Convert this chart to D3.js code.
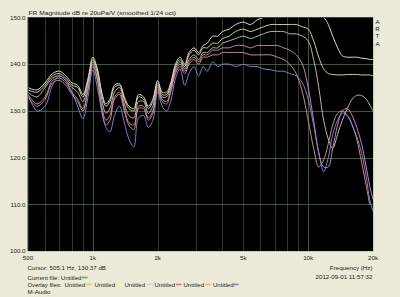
<!DOCTYPE html>
<html><head><meta charset="utf-8">
<script src="https://cdn.jsdelivr.net/npm/d3@7"></script>
<style>body{margin:0;background:#ece9d8;overflow:hidden}svg{display:block}</style>
</head><body>
<svg id="c" width="400" height="297"></svg>
<script>
const freqs = [500,550,600,650,700,750,800,850,900,950,1000,1050,1100,1150,1200,1260,1330,1400,1470,1550,1630,1720,1810,1900,2000,2100,2200,2300,2420,2540,2670,2800,2950,3100,3250,3400,3600,3800,4000,4300,4600,5000,5400,5800,6200,6700,7200,7700,8200,8800,9400,10000,10600,11200,11800,12400,13000,13700,14400,15200,16000,16800,17700,18600,19300,20000];

const curveWhite = [135,134.5,136,138,138.5,137.5,136,135.5,133.5,137,141.5,139,134,131.5,132.5,135.5,135.8,133,131,130.5,133.5,133,131,132.5,136.5,134,134,136,140,141.5,140,142.5,143.5,142.5,144,144.5,146,146,147,147.5,148.5,149,148.5,149.5,150,150.5,151,151,150.5,150.5,150.5,150.5,150.5,150.5,150,148.5,146,143.5,141.8,141.5,141.5,141.5,141.3,141.2,141,141];
const curveYellow = [134.5,134,135.5,137.5,138,137,135.5,135,133,136.5,141,138.5,133.5,131,132,135,135.5,132.5,130.5,130,133,132.5,130.5,132,136,133.5,133.5,135.5,139.5,141,139.5,142,143,142,143.5,143.5,144.5,144.5,145.5,146,147,147.5,147,147.5,148,148.5,148.5,148.5,148.5,148.5,148,147.5,145,141.5,139,138,137.8,137.7,137.7,137.8,137.8,137.8,137.7,137.7,137.7,137.5];
const curveGray = [134,133,135,137,137.5,136.5,135,134,132,136,140.5,138,132.5,129.5,130.5,134,135,131.5,129,128.5,132,132,129.5,131,135.5,133,133,135,139,140.5,139,141,142,141,142.5,142.5,143.5,143.5,144.5,145,145.5,146,145.5,146,146.5,147,147,147,146.5,146.5,146,145,141,135,128,124,122,125,128,130.5,132.5,133.3,133.3,132.5,131.3,130];
const curvePink = [133.5,131.5,133,136.5,137,136,134,132.5,130.5,135,140,137,131,128,129,133,134,130.5,127.5,127,131,131,128.5,130,135,132.5,132,134.5,138.5,140,138.5,140.5,141.5,140.5,142,142,143,143,143.5,143.5,144,144,143.5,144,144,144,144,143.5,143,142,140,135,128,121,118,118,122,127,130,130.5,129,126.5,123,118,114,111];
const curveSalmon = [133,131,132.5,136,136.5,135.5,133.5,132,130,134.5,139.5,136.5,130,127,128,132.5,133.5,130,127,126,130.5,130.5,128,129.5,134.5,132,131.5,134,138,139.5,138,140,141,140,141.5,141.5,142,142,142.5,142.5,142.5,142.5,142,142,142,142,141.5,141,140,138,134,128,122,118,119.5,123,127,129.5,130,129,127,124,119,114,110];
const curveBlue = [133.5,130,131,135.5,137.5,136.5,134,131,128.3,133,138.8,135,130,126.5,125.5,129,131,127.5,124,122.3,128.5,129,126.5,128,134,131,130,132,137,139,135.5,138,139.5,137.5,139.5,138.5,140.5,139.5,140,140,139.5,140,139.5,139.5,139,138.8,138.5,138.5,138,137.5,136,132.5,127,121,117,120,125,128,129.5,129,127,124.5,121,116,111,108.5];

const seriesColors = ["#f2f2d8","#e6e69a","#c8c8c0","#e08cc0","#e09a8a","#8a8af0"];
const seriesData = [curveWhite,curveYellow,curveGray,curvePink,curveSalmon,curveBlue];

const yTicks = [100,110,120,130,140,150];
const xTickVals = [500,1000,2000,5000,10000,20000];
const xTickLabels = ["500","1k","2k","5k","10k","20k"];
const gridFreqs = [600,700,800,900,1000,2000,3000,4000,5000,6000,7000,8000,9000,10000];

const legendColors = ["#e0d040","#f0f0a8","#d8d8d8","#e070a0","#f0b080","#8080f0"];

const svg = d3.select("#c");
const L=28, R=373, T=17.5, B=251;
const x = d3.scaleLog().domain([500,20000]).range([L,R]);
const y = d3.scaleLinear().domain([100,150]).range([B,T]);
const font = "'Liberation Sans', Arial, sans-serif";
const txt = "#222";
const fs = 6.2;

svg.append("rect").attr("width",400).attr("height",297).attr("fill","#ece9d8");
svg.append("rect").attr("x",L).attr("y",T).attr("width",R-L).attr("height",B-T).attr("fill","#000");

const g = svg.append("g");
g.selectAll("line.vg").data(gridFreqs).join("line")
  .attr("x1",d=>Math.round(x(d))+0.5).attr("x2",d=>Math.round(x(d))+0.5).attr("y1",T).attr("y2",B)
  .attr("stroke",d=>(d===1000||d===10000)?"#355e35":"#263d26").attr("stroke-width",1);
g.selectAll("line.hg").data(yTicks.slice(1,-1)).join("line")
  .attr("x1",L).attr("x2",R).attr("y1",d=>Math.round(y(d))+0.5).attr("y2",d=>Math.round(y(d))+0.5)
  .attr("stroke","#35603a").attr("stroke-width",1);

svg.append("clipPath").attr("id","clip").append("rect").attr("x",L).attr("y",T).attr("width",R-L).attr("height",B-T);
const line = d3.line().x((d,i)=>x(freqs[i])).y(d=>y(d)).curve(d3.curveCatmullRom.alpha(0.5));
svg.append("g").attr("clip-path","url(#clip)").selectAll("path").data(seriesData).join("path")
  .attr("d",d=>line(d)).attr("fill","none").attr("stroke",(d,i)=>seriesColors[i]).attr("stroke-width",0.9);

// frame
svg.append("line").attr("x1",L).attr("x2",R).attr("y1",T).attr("y2",T).attr("stroke","#404040");
svg.append("line").attr("x1",L).attr("x2",L).attr("y1",T).attr("y2",B).attr("stroke","#404040");
svg.append("line").attr("x1",L).attr("x2",R+0.5).attr("y1",B+0.5).attr("y2",B+0.5).attr("stroke","#a8dcc0");
svg.append("line").attr("x1",R+0.5).attr("x2",R+0.5).attr("y1",T).attr("y2",B+0.5).attr("stroke","#a8dcc0");

function t(xp,yp,s,anchor,len){
  const e = svg.append("text").attr("x",xp).attr("y",yp).attr("font-family",font).attr("font-size",fs)
    .attr("fill",txt).attr("text-anchor",anchor||"start").text(s);
  if(len) e.attr("textLength",len).attr("lengthAdjust","spacingAndGlyphs");
  return e;
}

svg.append("g").selectAll("text").data(yTicks).join("text")
  .attr("x",25.5).attr("y",d=>y(d)+2.2).attr("text-anchor","end")
  .attr("font-family",font).attr("font-size",fs).attr("fill",txt).text(d=>d.toFixed(1));
svg.append("g").selectAll("text").data(xTickVals).join("text")
  .attr("x",d=>x(d)).attr("y",260).attr("text-anchor","middle")
  .attr("font-family",font).attr("font-size",fs).attr("fill",txt).text((d,i)=>xTickLabels[i]);

t(28.5,15,"FR Magnitude dB re 20uPa/V (smoothed 1/24 oct)","start",147.5);
svg.append("g").selectAll("text").data(["A","R","T","A"]).join("text")
  .attr("x",377.5).attr("y",(d,i)=>23.5+i*7.4).attr("text-anchor","middle")
  .attr("font-family",font).attr("font-size",fs).attr("fill",txt).text(d=>d);

t(27.5,270,"Cursor: 505.1 Hz, 130.37 dB","start",78.5);
t(372.5,270,"Frequency (Hz)","end");
t(372.5,278.5,"2012-09-01  11:57:32","end");
t(27.5,279.5,"Current file: Untitled","start",54);
svg.append("line").attr("x1",82).attr("x2",87.5).attr("y1",277.5).attr("y2",277.5).attr("stroke","#40c040").attr("stroke-width",1.6);

t(27.5,286.5,"Overlay files:","start",34);
const ovX = [64.5,94.5,124.5,154.5,183.5,213];
const ovSw = [86,117,147,176,205,233];
svg.append("g").selectAll("text").data(ovX).join("text")
  .attr("x",d=>d).attr("y",286.5).attr("font-family",font).attr("font-size",fs).attr("fill",txt)
  .attr("textLength",20.5).attr("lengthAdjust","spacingAndGlyphs").text("Untitled");
svg.append("g").selectAll("line").data(ovSw).join("line")
  .attr("x1",d=>d).attr("x2",d=>d+5.5).attr("y1",284.5).attr("y2",284.5)
  .attr("stroke",(d,i)=>legendColors[i]).attr("stroke-width",1.6);

t(27.5,294,"M-Audio");
</script>
</body></html>
